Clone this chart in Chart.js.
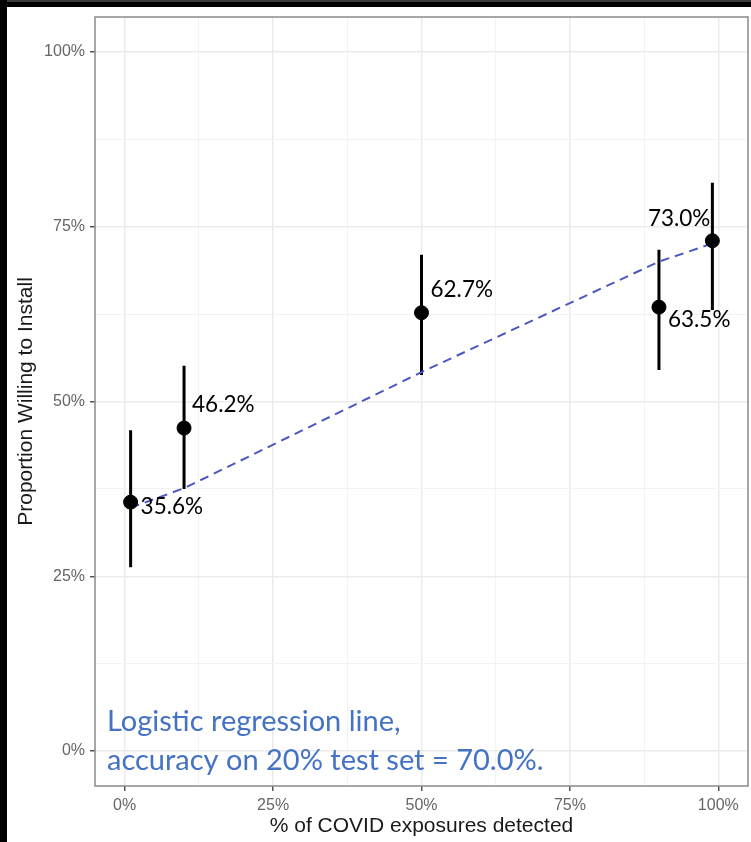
<!DOCTYPE html>
<html>
<head>
<meta charset="utf-8">
<script src="https://cdn.jsdelivr.net/npm/chart.js@4.4.1/dist/chart.umd.min.js"></script>
<style>
  html, body { margin: 0; padding: 0; background: #ffffff; }
  #wrap { position: relative; width: 751px; height: 842px; overflow: hidden; }
  #frameTop { position: absolute; left: 0; top: 0; width: 751px; height: 7px; background: #000; border-top: 2px solid #3c3c3c; box-sizing: border-box; }
  #frameLeft { position: absolute; left: 0; top: 0; width: 7px; height: 842px; background: #000; }
</style>
</head>
<body>
<div id="wrap">
  <canvas id="c" width="751" height="842"></canvas>
  <div id="frameTop"></div>
  <div id="frameLeft"></div>
</div>
<script>
// Share of respondents willing to install, by share of exposures detected
const detected = [1, 10, 50, 90, 99];
const willing = [35.6, 46.2, 62.7, 63.5, 73.0];
const ciLow = [26.3, 37.5, 53.8, 54.5, 63.1];
const ciHigh = [45.9, 55.1, 71.0, 71.7, 81.3];

// Fitted logistic curve, sampled along x
const fitX = [1, 10, 50, 90, 99];
const fitY = [34.8, 37.6, 54.2, 70.0, 72.6];

// Axis ticks (majors are labelled, minors only carry a light grid line)
const xTicks = [0, 12.5, 25, 37.5, 50, 62.5, 75, 87.5, 100];
const yTicks = [0, 12.5, 25, 37.5, 50, 62.5, 75, 87.5, 100];
const majorTicks = [0, 25, 50, 75, 100];

const noteLines = ['Logistic regression line,', 'accuracy on 20% test set = 70.0%.'];

// Label offsets (px) next to each point: [dx, dy, align]
const labelOffsets = [[10, 5, 'left'], [8, -23, 'left'], [9, -23, 'left'], [9, 13, 'left'], [-2, -22, 'right']];

const errorBarData = [];
detected.forEach((x, i) => {
  errorBarData.push({x: x, y: ciLow[i]}, {x: x, y: ciHigh[i]}, {x: x, y: null});
});

const isMajor = v => majorTicks.includes(v);

const panelPlugin = {
  id: 'panel',
  afterDatasetsDraw(chart) {
    const {ctx, chartArea: a, scales} = chart;
    // panel border
    ctx.save();
    ctx.strokeStyle = '#8a8a8a';
    ctx.lineWidth = 1.5;
    ctx.strokeRect(a.left, a.top, a.right - a.left, a.bottom - a.top);
    // value labels
    ctx.fillStyle = '#000';
    ctx.font = '22.5px Lato';
    ctx.textBaseline = 'middle';
    detected.forEach((x, i) => {
      const px = scales.x.getPixelForValue(x);
      const py = scales.y.getPixelForValue(willing[i]);
      const [dx, dy, al] = labelOffsets[i];
      ctx.textAlign = al;
      ctx.fillText(willing[i].toFixed(1) + '%', px + dx, py + dy);
    });
    // model note
    ctx.fillStyle = '#4472C4';
    ctx.font = '29px Lato';
    ctx.textAlign = 'left';
    ctx.fillText(noteLines[0], a.left + 12, a.bottom - 64);
    ctx.fillText(noteLines[1], a.left + 12, a.bottom - 25);
    ctx.restore();
  }
};

const gridColor = c => isMajor(c.tick.value) ? '#ebebeb' : '#f3f3f3';
const gridWidth = c => isMajor(c.tick.value) ? 1.5 : 1;
const tickColor = c => isMajor(c.tick.value) ? '#555555' : 'rgba(0,0,0,0)';

new Chart(document.getElementById('c'), {
  type: 'scatter',
  data: {
    datasets: [
      {
        type: 'scatter',
        data: detected.map((x, i) => ({x: x, y: willing[i]})),
        backgroundColor: '#000',
        borderColor: '#000',
        pointRadius: 7,
        pointHoverRadius: 7,
        order: 0
      },
      {
        type: 'line',
        data: fitX.map((x, i) => ({x: x, y: fitY[i]})),
        borderColor: '#4B58C0',
        borderWidth: 2,
        borderDash: [9, 6],
        pointRadius: 0,
        fill: false,
        tension: 0,
        order: 1
      },
      {
        type: 'line',
        data: errorBarData,
        borderColor: '#000',
        borderWidth: 3,
        pointRadius: 0,
        spanGaps: false,
        fill: false,
        order: 2
      }
    ]
  },
  options: {
    responsive: false,
    animation: false,
    devicePixelRatio: 1,
    layout: { autoPadding: false, padding: { left: 0, top: 17, right: 3, bottom: 0 } },
    plugins: { legend: { display: false }, tooltip: { enabled: false } },
    scales: {
      x: {
        type: 'linear',
        min: -5,
        max: 105,
        afterBuildTicks: s => { s.ticks = xTicks.map(v => ({value: v})); },
        afterFit: s => { s.height = 56; s.paddingLeft = 0; s.paddingRight = 0; },
        border: { display: false },
        grid: { color: gridColor, lineWidth: gridWidth, tickColor: tickColor, tickLength: 5, tickWidth: 1.5 },
        ticks: {
          autoSkip: false, maxRotation: 0, padding: 5,
          color: '#666666',
          font: { family: 'Liberation Sans', size: 16 },
          callback: v => isMajor(v) ? v + '%' : ''
        },
        title: {
          display: true,
          text: '% of COVID exposures detected',
          color: '#1a1a1a',
          font: { family: 'Liberation Sans', size: 21 },
          padding: { top: 0, bottom: 3 }
        }
      },
      y: {
        type: 'linear',
        min: -5,
        max: 105,
        afterBuildTicks: s => { s.ticks = yTicks.map(v => ({value: v})); },
        afterFit: s => { s.width = 95; s.paddingTop = 0; s.paddingBottom = 0; },
        border: { display: false },
        grid: { color: gridColor, lineWidth: gridWidth, tickColor: tickColor, tickLength: 5, tickWidth: 1.5 },
        ticks: {
          autoSkip: false, padding: 5,
          color: '#666666',
          font: { family: 'Liberation Sans', size: 16 },
          callback: v => isMajor(v) ? v + '%' : ''
        },
        title: {
          display: true,
          text: 'Proportion Willing to Install',
          color: '#1a1a1a',
          font: { family: 'Liberation Sans', size: 21 },
          padding: { top: 14, bottom: 0 }
        }
      }
    }
  },
  plugins: [panelPlugin]
});
</script>
</body>
</html>
